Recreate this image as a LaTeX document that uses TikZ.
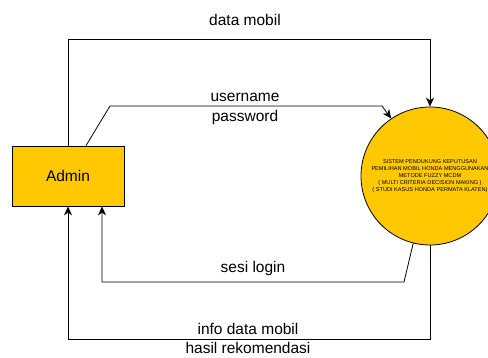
\documentclass[tikz,border=0pt]{standalone}
\usepackage{fontspec}
\setmainfont{Liberation Sans}
\usepackage{tikz}
\usetikzlibrary{positioning}
\usetikzlibrary{arrows.meta}
\definecolor{dfdyellow}{RGB}{255,200,0}

\begin{document}
\begin{tikzpicture}[x=1pt,y=-1pt]
	\useasboundingbox (0,0) rectangle (488,358);
	\begin{scope}[every node/.style={fill=dfdyellow,draw=black,thick}]
	    \node[rectangle,minimum width=112pt,minimum height=60pt,font=\fontsize{15.5}{18}\selectfont] (admin) at (68,176) {Admin};
	    \node[circle,minimum size=138pt,inner sep=0pt,align=center,font=\fontsize{5.6}{7}\selectfont] (sys) at (430,176)
	        {SISTEM PENDUKUNG KEPUTUSAN\\PEMILIHAN MOBIL HONDA MENGGUNAKAN\\METODE FUZZY MCDM\\( MULTI CRITERIA DECISION MAKING )\\( STUDI KASUS HONDA PERMATA KLATEN)};
	\end{scope}

	\begin{scope}[every node/.style={font=\fontsize{15.5}{18}\selectfont,inner sep=1pt}]
	    \node (lbldata) at (245,20) {data mobil};
	    \node (lbluser) at (245,97) {username};
	    \node (lblpass) at (245,117) {password};
	    \node (lblsesi) at (253,268) {sesi login};
	    \node (lblinfo) at (248,329) {info data mobil};
	    \node (lblhasil) at (248,348) {hasil rekomendasi};
	\end{scope}

	\begin{scope}[>={Stealth[black,length=9pt,width=8pt]},
	              every path/.style={draw=black,line width=0.8pt}]
    	\draw [->] (admin.north) -- (68,39) -- (430,39) -- (sys.north);
    	\draw [->] ([xshift=18pt]admin.north) -- (110,106) -- (382,106) -- (sys.124);
    	\draw [->] (sys.256) -- (404,282) -- (102,282) -- ([xshift=34pt]admin.south);
    	\draw [->] (sys.south) -- (430,339) -- (68,339) -- (admin.south);
	\end{scope}
\end{tikzpicture}
\end{document}
